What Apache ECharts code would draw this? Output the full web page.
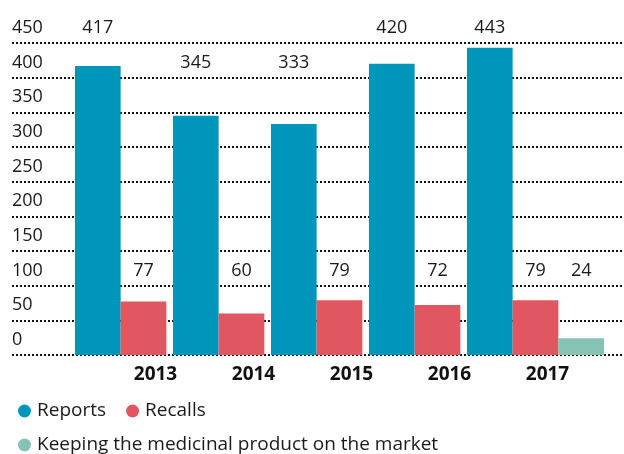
<!DOCTYPE html>
<html>
<head>
<meta charset="utf-8">
<script src="https://cdn.jsdelivr.net/npm/echarts@6/dist/echarts.min.js"></script>
<style>
html,body{margin:0;padding:0;background:#fff;}
#chart{width:624px;height:454px;}
</style>
</head>
<body>
<div id="chart"></div>
<script>
const years = ['2013', '2014', '2015', '2016', '2017'];
const reports = [417, 345, 333, 420, 443];
const recalls = [77, 60, 79, 72, 79];
const keeping = [null, null, null, null, 24];
const seriesNames = ['Reports', 'Recalls', 'Keeping the medicinal product on the market'];
const yMax = 450;
const yStep = 50;

const FONT = 'Open Sans';
const TXT = '#1a1a1a';
const colors = ['#0096bc', '#e05661', '#86c3b5'];

const W = 624, H = 454;
const gridTop = 43, gridBottom = 99;
const plotH = H - gridTop - gridBottom;
const k = plotH / yMax;

// labels sit in the row just above a gridline, clear of the bar top
function labelRow(v) {
  let row = Math.ceil(v / yStep) * yStep;
  if (row - v < 20) row += yStep;
  return Math.min(yMax, Math.max(100, row));
}
function withLabels(arr) {
  return arr.map(v => v == null ? null : ({
    value: v,
    label: { offset: [0, -(labelRow(v) - v) * k] }
  }));
}

const barLabel = {
  show: true, position: 'top', distance: 6,
  fontFamily: FONT, fontSize: 18, lineHeight: 18, color: TXT
};

const chart = echarts.init(document.getElementById('chart'), null, { renderer: 'canvas' });
chart.setOption({
  animation: false,
  backgroundColor: '#fff',
  textStyle: { fontFamily: FONT, color: TXT },
  grid: [
    { left: 12, right: 2, top: gridTop, bottom: gridBottom },
    { left: 94.5, width: 490, top: gridTop, bottom: gridBottom }
  ],
  xAxis: [
    { gridIndex: 0, type: 'value', show: false, min: 0, max: 1 },
    {
      gridIndex: 1, type: 'category', data: years,
      axisLine: { show: false }, axisTick: { show: false },
      axisLabel: {
        fontFamily: FONT, fontSize: 19, fontWeight: 'bold', color: '#111',
        margin: 10, padding: [0, 0, 0, 24]
      }
    }
  ],
  yAxis: [
    {
      gridIndex: 0, type: 'value', min: 0, max: yMax, interval: yStep,
      axisLine: { show: false }, axisTick: { show: false },
      splitLine: { show: true, lineStyle: { color: '#111', width: 2, type: [2, 2] } },
      axisLabel: {
        inside: true, align: 'left', verticalAlign: 'bottom',
        fontFamily: FONT, fontSize: 18, lineHeight: 18, color: TXT,
        padding: [0, 0, 6, 0], margin: 0
      }
    },
    { gridIndex: 1, type: 'value', min: 0, max: yMax, interval: yStep, show: false }
  ],
  legend: [
    {
      data: seriesNames.slice(0, 2), left: 13, top: 396, icon: 'circle',
      itemWidth: 13, itemHeight: 13, itemGap: 20,
      textStyle: { fontFamily: FONT, fontSize: 19, lineHeight: 20, color: TXT, padding: [0, 0, 0, 1] }
    },
    {
      data: seriesNames.slice(2), left: 13, top: 430, icon: 'circle',
      itemWidth: 13, itemHeight: 13, itemGap: 20,
      textStyle: { fontFamily: FONT, fontSize: 19, lineHeight: 20, color: TXT, padding: [0, 0, 0, 1] }
    }
  ],
  series: [
    {
      name: seriesNames[0], type: 'bar', xAxisIndex: 1, yAxisIndex: 1, clip: false,
      data: withLabels(reports), barWidth: 45.7, barGap: '0%',
      itemStyle: { color: colors[0] }, label: barLabel
    },
    {
      name: seriesNames[1], type: 'bar', xAxisIndex: 1, yAxisIndex: 1, clip: false,
      data: withLabels(recalls), barWidth: 45.7, barGap: '0%',
      itemStyle: { color: colors[1] }, label: barLabel
    },
    {
      name: seriesNames[2], type: 'bar', xAxisIndex: 1, yAxisIndex: 1, clip: false,
      data: withLabels(keeping), barWidth: 45.7, barGap: '0%',
      itemStyle: { color: colors[2] }, label: barLabel
    }
  ]
});
</script>
</body>
</html>
